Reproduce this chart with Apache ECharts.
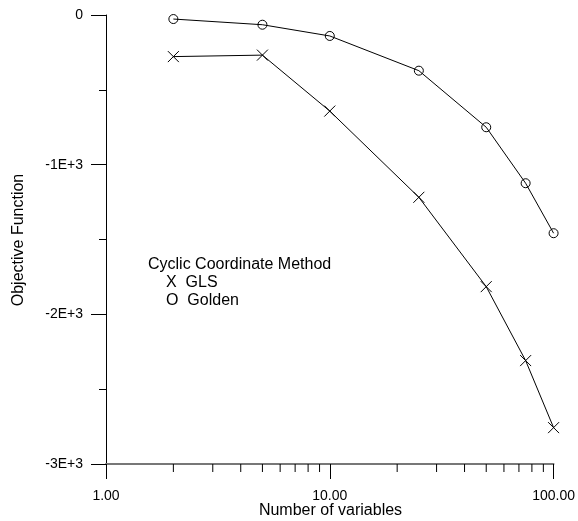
<!DOCTYPE html>
<html>
<head>
<meta charset="utf-8">
<script src="https://cdn.jsdelivr.net/npm/echarts@6/dist/echarts.min.js"></script>
<style>html,body{margin:0;padding:0;background:#fff;}#c{width:578px;height:521px;}</style>
</head>
<body>
<div id="c"></div>
<script>
var numVars = [2, 5, 10, 25, 50, 75, 100];
var glsValues = [-278, -268, -642, -1218, -1815, -2309, -2757];
var goldenValues = [-27, -65, -140, -372, -750, -1124, -1458];
var xMinorTicks = [2, 3, 4, 5, 6, 7, 8, 9, 20, 30, 40, 50, 60, 70, 80, 90];
var yTickLabels = {"0": "0", "-1000": "-1E+3", "-2000": "-2E+3", "-3000": "-3E+3"};
var xTitle = "Number of variables";
var yTitle = "Objective Function";
var legendTitle = "Cyclic Coordinate Method";
var legendItems = ["X  GLS", "O  Golden"];

var FONT = "'Liberation Sans', Arial, Helvetica, sans-serif";
var chart = echarts.init(document.getElementById('c'), null, {renderer: 'canvas'});

function pairs(xs, ys) { return xs.map(function (x, i) { return [x, ys[i]]; }); }

var option = {
  animation: false,
  backgroundColor: '#fff',
  grid: {left: 106, right: 23, top: 15, bottom: 57, containLabel: false},
  xAxis: {
    type: 'log', logBase: 10, min: 1, max: 100,
    axisLine: {show: true, onZero: false, lineStyle: {color: '#777', width: 2}},
    axisTick: {show: true, length: 15, lineStyle: {color: '#000', width: 1}},
    minorTick: {show: false},
    splitLine: {show: false},
    axisLabel: {margin: 25, fontSize: 14, color: '#000', fontFamily: FONT,
      formatter: function (v) { return Number(v).toFixed(2); }}
  },
  yAxis: {
    type: 'value', min: -3000, max: 0, interval: 1000,
    axisLine: {show: true, onZero: false, lineStyle: {color: '#000', width: 1}},
    axisTick: {show: true, length: 15, lineStyle: {color: '#000', width: 1}},
    minorTick: {show: true, splitNumber: 2, length: 7, lineStyle: {color: '#000', width: 1}},
    splitLine: {show: false},
    minorSplitLine: {show: false},
    axisLabel: {margin: 23, fontSize: 14, color: '#000', fontFamily: FONT,
      formatter: function (v) { return yTickLabels[String(v)] !== undefined ? yTickLabels[String(v)] : String(v); }}
  },
  series: [
    {
      name: 'GLS', type: 'line', data: pairs(numVars, glsValues),
      lineStyle: {color: '#000', width: 1},
      symbol: 'path://M0,0L10,10M10,0L0,10', symbolSize: 11,
      itemStyle: {color: 'rgba(0,0,0,0)', borderColor: '#000', borderWidth: 1},
      z: 3
    },
    {
      name: 'Golden', type: 'line', data: pairs(numVars, goldenValues),
      lineStyle: {color: '#000', width: 1},
      symbol: 'circle', symbolSize: 9,
      itemStyle: {color: 'rgba(0,0,0,0)', borderColor: '#000', borderWidth: 1},
      z: 3
    },
    {
      name: 'xminor', type: 'custom', clip: false, silent: true,
      data: xMinorTicks.map(function (v) { return [v, -3000]; }),
      renderItem: function (params, api) {
        var p = api.coord([api.value(0), api.value(1)]);
        return {type: 'line', shape: {x1: p[0], y1: p[1], x2: p[0], y2: p[1] + 8},
          style: {stroke: '#000', lineWidth: 1}};
      }
    }
  ],
  graphic: [
    {type: 'text', left: 148, top: 257, style: {text: legendTitle, font: '16px ' + FONT, fill: '#000'}},
    {type: 'text', left: 166, top: 275, style: {text: legendItems[0], font: '16px ' + FONT, fill: '#000'}},
    {type: 'text', left: 166, top: 293, style: {text: legendItems[1], font: '16px ' + FONT, fill: '#000'}},
    {type: 'text', x: 330.5, y: 511, style: {text: xTitle, font: '16px ' + FONT, fill: '#000', align: 'center', verticalAlign: 'middle'}},
    {type: 'text', x: 19, y: 240, rotation: Math.PI / 2, style: {text: yTitle, font: '16px ' + FONT, fill: '#000', align: 'center', verticalAlign: 'middle'}}
  ]
};
chart.setOption(option);
</script>
</body>
</html>
